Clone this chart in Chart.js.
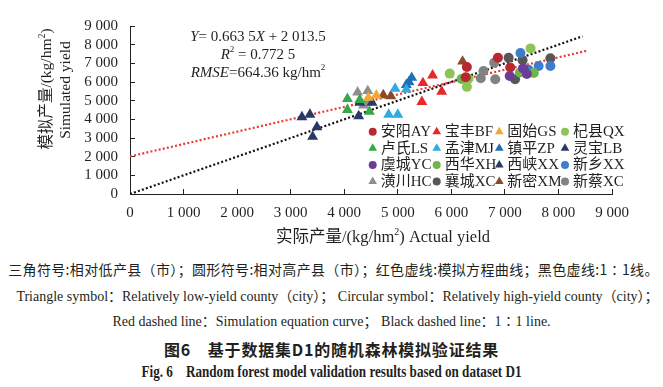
<!DOCTYPE html>
<html>
<head>
<meta charset="utf-8">
<script src="https://cdn.jsdelivr.net/npm/chart.js@4.4.1/dist/chart.umd.min.js"></script>
<style>
  body { margin: 0; background: #fff; width: 663px; height: 387px; overflow: hidden; position: relative; }
  #wrap { position: absolute; left: 0; top: 0; width: 663px; height: 250px; }
  .cap { position: absolute; left: 0; width: 663px; text-align: center; white-space: nowrap; color: #231f20; line-height: 1; }
</style>
</head>
<body>
<div id="wrap"><canvas id="yieldChart" width="663" height="250"></canvas></div>

<div class="cap" style="top:259px;left:2px;letter-spacing:0.35px;font:14px 'Noto Sans CJK SC'">三角符号:相对低产县（市）；圆形符号:相对高产县（市）；红色虚线:模拟方程曲线；黑色虚线:1∶1线。</div>
<div class="cap" style="top:285px;left:6px;font:14px 'Liberation Serif','Noto Sans CJK SC'">Triangle symbol：Relatively low-yield county（city）； Circular symbol：Relatively high-yield county（city）；</div>
<div class="cap" style="top:310px;font:14px 'Liberation Serif','Noto Sans CJK SC'">Red dashed line：Simulation equation curve； Black dashed line：1∶1 line.</div>
<div class="cap" style="top:337px;letter-spacing:0.8px;font:bold 16px 'Noto Sans CJK SC'">图6　基于数据集D1的随机森林模拟验证结果</div>
<div class="cap" style="top:363px;font:bold 16px 'Liberation Serif';transform:scaleX(0.82);transform-origin:331.5px 50%">Fig. 6&nbsp;&nbsp;&nbsp;&nbsp;Random forest model validation results based on dataset D1</div>

<script>
// actual yield (x) vs simulated yield (y), kg/hm2
const anyang   = [[6290, 6800], [6270, 6250], [6870, 7300], [7100, 6780]]
const baofeng  = [[5470, 5950], [5650, 6360], [5820, 5490], [5450, 4940]]
const gushi    = [[4450, 5160], [4600, 5290]]
const qixian   = [[5970, 6450], [7480, 7800], [6290, 5740], [6320, 6180]]
const lushi    = [[4060, 5100], [4060, 4510], [4290, 5050], [4470, 4420]]
const mengjin  = [[4950, 5650], [5160, 5600], [4830, 4250], [5000, 4250]]
const zhenping = [[5160, 5850], [5210, 6000], [5260, 6230]]
const lingbao  = [[3210, 4120], [3360, 4250], [3490, 3590], [3410, 3070]]
const yucheng  = [[7090, 6320], [7410, 6430], [7340, 6730]]
const xihua    = [[6190, 6160], [7280, 6510], [7540, 6480]]
const xixia    = [[4270, 4170], [4290, 4900], [4520, 4900]]
const xinxiang = [[7290, 7550], [7440, 6650], [7630, 6860], [7850, 6860]]
const huangchuan = [[4250, 5450], [4440, 5520], [4360, 4750], [4420, 4900]]
const xiangcheng = [[7070, 7300], [7330, 7170], [7850, 7270], [7190, 6150]]
const xinmi    = [[4730, 5300], [4870, 5250], [6210, 7100]]
const xincai   = [[6600, 6590], [6800, 7030], [6820, 6150], [6550, 6200]]

const fitSlope = 0.6635
const fitIntercept = 2013.5
const fitEnd = 8550
const oneToOneEnd = 8450

const xTickLabels = ['0', '1 000', '2 000', '3 000', '4 000', '5 000', '6 000', '7 000', '8 000', '9 000']
const yTickLabels = ['0', '1 000', '2 000', '3 000', '4 000', '5 000', '6 000', '7 000', '8 000', '9 000']

// legend order: 4 columns, row by row
const series = [
    { label: '安阳AY', data: anyang,   style: 'circle',   color: '#b9272f' },
    { label: '宝丰BF', data: baofeng,  style: 'triangle', color: '#e8262b' },
    { label: '固始GS', data: gushi,    style: 'triangle', color: '#f3a833' },
    { label: '杞县QX', data: qixian,   style: 'circle',   color: '#8cc556' },
    { label: '卢氏LS', data: lushi,    style: 'triangle', color: '#36a84a' },
    { label: '孟津MJ', data: mengjin,  style: 'triangle', color: '#2fabe1' },
    { label: '镇平ZP', data: zhenping, style: 'triangle', color: '#1f6fb7' },
    { label: '灵宝LB', data: lingbao,  style: 'triangle', color: '#283867' },
    { label: '虞城YC', data: yucheng,  style: 'circle',   color: '#6b3d98' },
    { label: '西华XH', data: xihua,    style: 'circle',   color: '#6fb649' },
    { label: '西峡XX', data: xixia,    style: 'triangle', color: '#2a3a6d' },
    { label: '新乡XX', data: xinxiang, style: 'circle',   color: '#3e7dc9' },
    { label: '潢川HC', data: huangchuan, style: 'triangle', color: '#8e8e8e' },
    { label: '襄城XC', data: xiangcheng, style: 'circle', color: '#575757' },
    { label: '新密XM', data: xinmi,    style: 'triangle', color: '#8a4a2b' },
    { label: '新蔡XC', data: xincai,   style: 'circle',   color: '#828282' },
]

const ink = '#231f20'
const serif = '"Liberation Serif", "Noto Sans CJK SC"'

const fontOf = (p, size) => (p.i ? 'italic ' : '') + (p.sup ? Math.round(size * 0.62) : size) + 'px ' + serif

function drawRich(ctx, parts, x, y, size) {
    let w = 0
    parts.forEach(p => { ctx.font = fontOf(p, size); w += ctx.measureText(p.t).width })
    let cx = x - w / 2
    ctx.textAlign = 'left'
    ctx.textBaseline = 'middle'
    parts.forEach(p => {
        ctx.font = fontOf(p, size)
        ctx.fillText(p.t, cx, p.sup ? y - size * 0.33 : y)
        cx += ctx.measureText(p.t).width
    })
}

const extrasPlugin = {
    id: 'extras',
    afterDraw(chart) {
        const ctx = chart.ctx
        const area = chart.chartArea
        ctx.save()
        ctx.fillStyle = ink

        // regression text
        const ax = area.left + 128
        drawRich(ctx, [{ t: 'Y', i: true }, { t: '= 0.663 5' }, { t: 'X', i: true }, { t: ' + 2 013.5' }], ax, area.top + 11, 15)
        drawRich(ctx, [{ t: 'R', i: true }, { t: '2', sup: true }, { t: ' = 0.772 5' }], ax, area.top + 29, 15)
        drawRich(ctx, [{ t: 'RMSE', i: true }, { t: '=664.36 kg/hm' }, { t: '2', sup: true }], ax, area.top + 47, 15)

        // axis titles
        drawRich(ctx, [{ t: '实际产量/(kg/hm' }, { t: '2', sup: true }, { t: ') Actual yield' }], 383, 238, 16.5)
        ctx.save()
        ctx.translate(47, 89)
        ctx.rotate(-Math.PI / 2)
        drawRich(ctx, [{ t: '模拟产量/(kg/hm' }, { t: '2', sup: true }, { t: ')' }], 0, 0, 15.5)
        ctx.restore()
        ctx.save()
        ctx.translate(66, 90)
        ctx.rotate(-Math.PI / 2)
        drawRich(ctx, [{ t: 'Simulated yield' }], 0, 0, 15.5)
        ctx.restore()

        // legend inside the plot
        const markX = [372.7, 436.7, 499.3, 565]
        const rowY = [131.7, 148.3, 165, 181.5]
        ctx.font = '15px ' + serif
        ctx.textAlign = 'left'
        ctx.textBaseline = 'middle'
        series.forEach((s, i) => {
            const c = i % 4, r = Math.floor(i / 4)
            ctx.fillStyle = s.color
            ctx.strokeStyle = s.color
            Chart.helpers.drawPoint(ctx, { pointStyle: s.style, radius: s.style === 'circle' ? 4 : 5, rotation: 0, borderWidth: 0 }, markX[c], rowY[r])
            ctx.fillStyle = ink
            ctx.fillText(s.label, markX[c] + 8, rowY[r] + 0.5)
        })
        ctx.restore()
    }
}

const pointSets = series.map(s => ({
    type: 'scatter',
    label: s.label,
    data: s.data.map(([x, y]) => ({ x, y })),
    pointStyle: s.style,
    pointRadius: s.style === 'circle' ? 5 : 6.3,
    backgroundColor: s.color,
    borderColor: s.color,
    borderWidth: 0,
}))

const lineSets = [
    {
        type: 'line',
        label: 'fit',
        data: [{ x: 0, y: fitIntercept }, { x: fitEnd, y: fitSlope * fitEnd + fitIntercept }],
        borderColor: '#ee3a32',
        borderWidth: 2.2,
        borderDash: [2, 2.2],
        pointRadius: 0,
    },
    {
        type: 'line',
        label: '1:1',
        data: [{ x: 0, y: 0 }, { x: oneToOneEnd, y: oneToOneEnd }],
        borderColor: '#111',
        borderWidth: 2.2,
        borderDash: [2, 2.2],
        pointRadius: 0,
    },
]

const axisGrid = { drawOnChartArea: false, drawTicks: true, tickLength: -5, color: '#222', lineWidth: 1 }

new Chart('yieldChart', {
    data: { datasets: [...pointSets, ...lineSets] },
    options: {
        responsive: false,
        animation: false,
        layout: { padding: { top: 12, right: 51, bottom: 0, left: 0 } },
        plugins: { legend: { display: false }, tooltip: { enabled: false } },
        scales: {
            x: {
                type: 'linear',
                min: 0, max: 9000,
                grid: axisGrid,
                border: { color: '#222', width: 1 },
                ticks: {
                    stepSize: 1000,
                    autoSkip: false,
                    padding: 15,
                    color: ink,
                    font: { family: serif, size: 15 },
                    maxRotation: 0,
                    callback: (v, i) => xTickLabels[i],
                },
                afterFit: s => { s.height = 56 },
            },
            y: {
                type: 'linear',
                min: 0, max: 9000,
                grid: axisGrid,
                border: { color: '#222', width: 1 },
                ticks: {
                    stepSize: 1000,
                    autoSkip: false,
                    padding: 17,
                    color: ink,
                    font: { family: serif, size: 15 },
                    callback: (v, i) => yTickLabels[i],
                },
                afterFit: s => { s.width = 130 },
            },
        },
    },
    plugins: [extrasPlugin],
})
</script>
</body>
</html>
